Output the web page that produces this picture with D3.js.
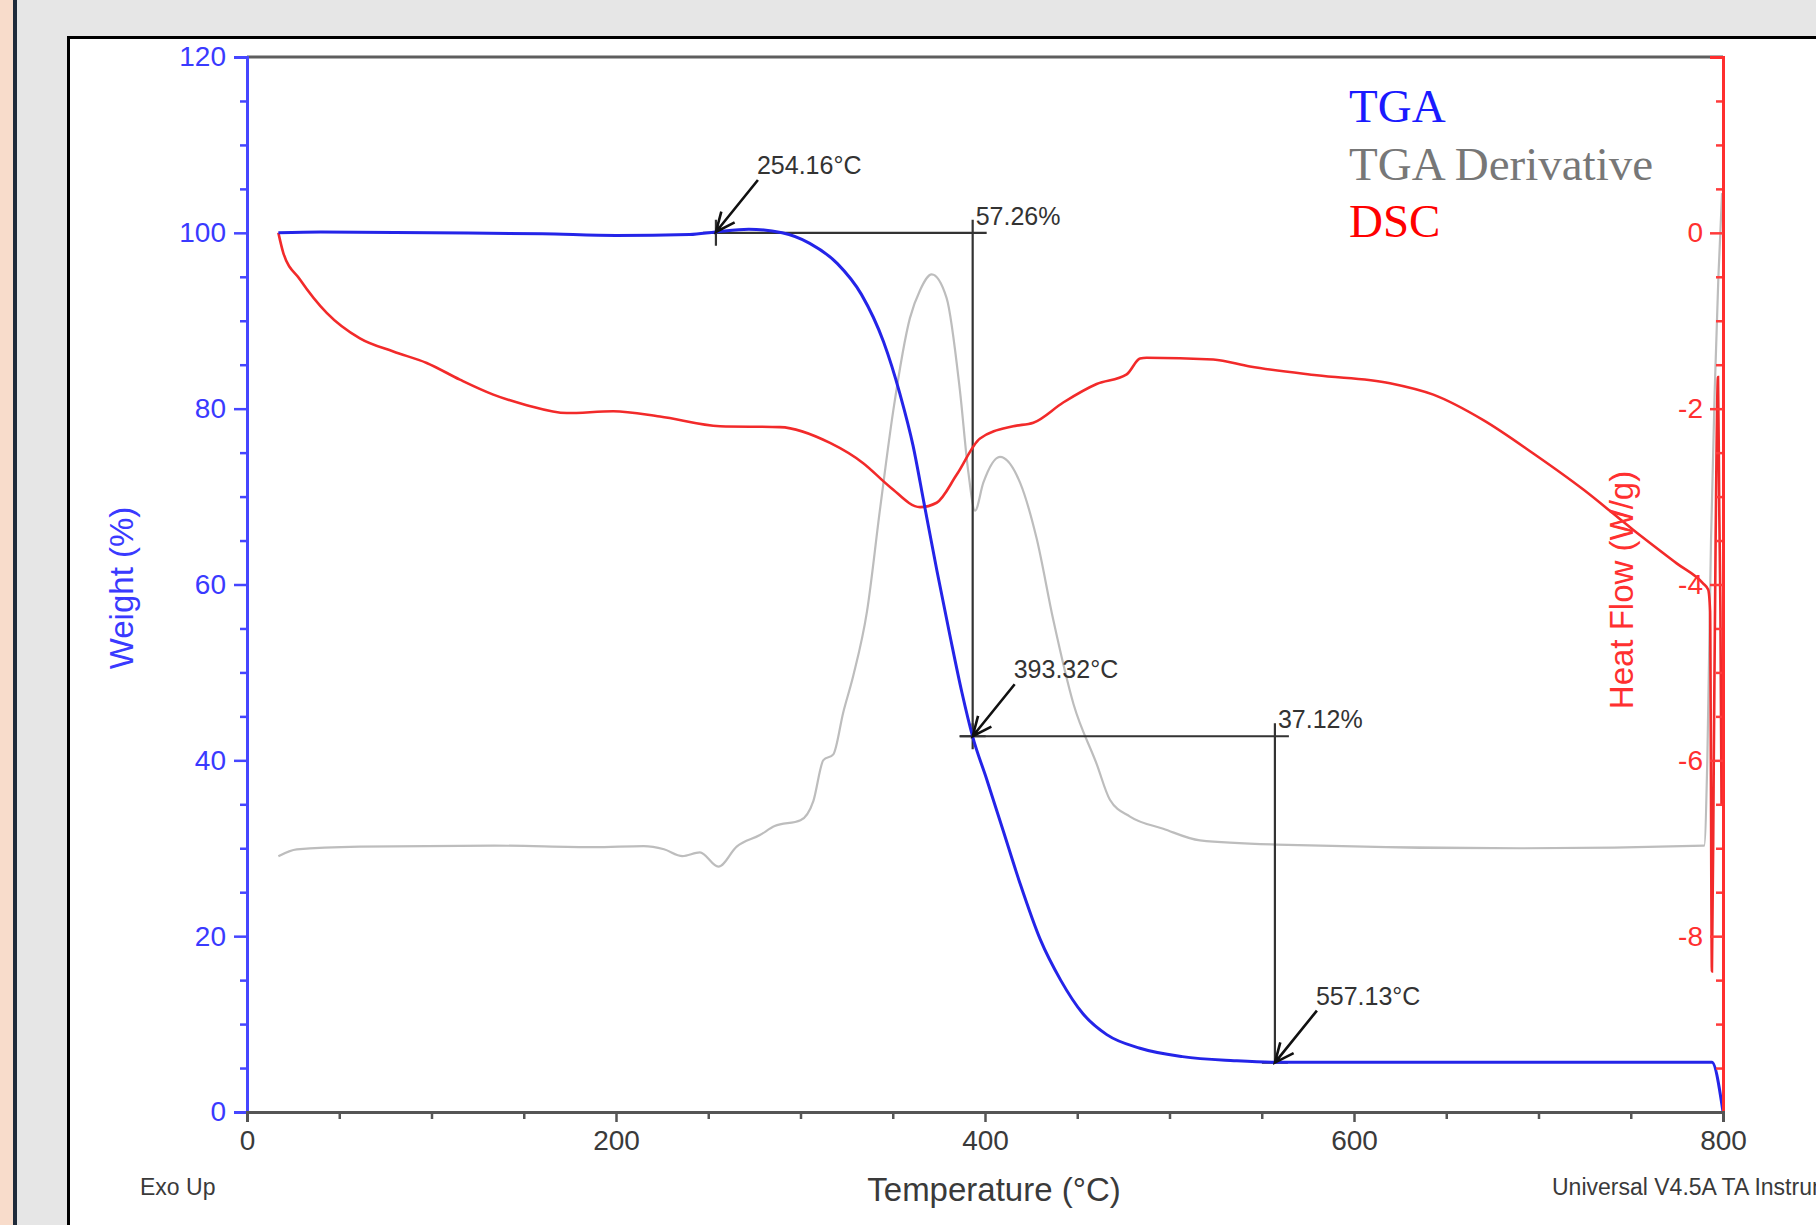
<!DOCTYPE html>
<html>
<head>
<meta charset="utf-8">
<script src="https://cdn.jsdelivr.net/npm/d3@7"></script>
<style>
  html, body { margin: 0; padding: 0; background: #e6e6e6; }
  svg { display: block; }
</style>
</head>
<body>
<div id="wrapper"></div>
<script>
// TGA weight (%) vs temperature (°C)
const tgaData = [
  [17, 100.0], [40, 100.1], [100, 100.0], [160, 99.9], [200, 99.7], [240, 99.8],
  [254, 100.1], [272, 100.4], [290, 100.0], [305, 98.8], [320, 96.5], [333, 93.0],
  [345, 87.6], [354, 81.6], [361, 75.8], [367, 69.2], [374, 61.5], [381, 54.2],
  [387.4, 47.8], [393.3, 42.7], [401, 37.8], [410, 31.9], [419, 26.0], [430, 19.6],
  [441, 15.0], [453, 11.2], [466, 8.8], [484, 7.25], [507, 6.3], [535, 5.84],
  [558, 5.65], [650, 5.65], [794, 5.65], [800, 0]
];
// DSC heat flow (W/g) vs temperature (°C)
const dscData = [
  [17, 0.0], [19.7, -0.23], [28.7, -0.53], [43.2, -0.91], [61.2, -1.20], [79.3, -1.35],
  [97.4, -1.48], [115.4, -1.67], [133.5, -1.84], [151.6, -1.96], [173.3, -2.05],
  [198.5, -2.03], [223.8, -2.09], [256.4, -2.20], [288.9, -2.21], [316, -2.39],
  [334, -2.62], [348.5, -2.89], [364.8, -3.12], [373.8, -3.07], [384.7, -2.75],
  [397.3, -2.34], [415.3, -2.20], [426.2, -2.16], [442.4, -1.93], [460.5, -1.72],
  [476.8, -1.61], [484, -1.43], [487.6, -1.42], [523.7, -1.44], [543.6, -1.52],
  [579.8, -1.62], [619.5, -1.71], [643, -1.84], [670.1, -2.13], [697.2, -2.51],
  [724.3, -2.92], [751.4, -3.38], [774.9, -3.76], [789.3, -3.99], [792, -4.06],
  [793, -4.3], [794, -8.4], [795, -6.0], [796, -3.5], [797.3, -1.64], [798, -3.2],
  [798.6, -4.3], [799.2, -6.5]
];
// TGA derivative (%/°C) vs temperature (°C)
const derivData = [
  [17, -0.015], [27, -0.002], [61, 0.003], [134, 0.005], [188, 0.002], [215, 0.004],
  [226, -0.002], [236, -0.015], [245.5, -0.008], [255.5, -0.035], [265.4, 0.003],
  [278, 0.025], [286, 0.042], [300, 0.053], [307, 0.09], [312.4, 0.167], [317.8, 0.178],
  [323.2, 0.258], [328.6, 0.327], [336, 0.448], [343, 0.64], [350.3, 0.83],
  [359.3, 1.005], [364.8, 1.058], [371.1, 1.088], [379.2, 1.043], [386.4, 0.868],
  [390.9, 0.715], [394.6, 0.64], [399.1, 0.693], [408.1, 0.742], [419, 0.693],
  [428, 0.587], [437, 0.433], [448, 0.273], [460.5, 0.16], [467.7, 0.092],
  [478.6, 0.06], [496.6, 0.037], [516.5, 0.015], [558, 0.007], [690, 0.0],
  [789.8, 0.005], [791.5, 0.167], [793.5, 0.583], [795.5, 0.867], [797.5, 1.083],
  [799.5, 1.242]
];

const weightTicks = [0, 20, 40, 60, 80, 100, 120];
const heatTicks = [0, -2, -4, -6, -8];
const tempTicks = [0, 200, 400, 600, 800];

// step annotations (weight loss between two temperatures)
const steps = [
  { from: 254.16, to: 393.32, top: 100, bottom: 42.74, label: "57.26%" },
  { from: 393.32, to: 557.13, top: 42.74, bottom: 5.62, label: "37.12%" }
];
const markers = [
  { temp: 254.16, weight: 100.1, label: "254.16°C" },
  { temp: 393.32, weight: 42.74, label: "393.32°C" },
  { temp: 557.13, weight: 5.62, label: "557.13°C" }
];
const legendItems = ["TGA", "TGA Derivative", "DSC"];

function drawChart() {
  const xAccessor = d => d[0];
  const yAccessor = d => d[1];

  // dimensions
  let dimensions = {
    width: 1816,
    height: 1225,
    margin: { top: 57, right: 93, bottom: 113, left: 247 }
  };
  dimensions.boundWidth = dimensions.width - dimensions.margin.left - dimensions.margin.right;
  dimensions.boundHeight = dimensions.height - dimensions.margin.top - dimensions.margin.bottom;

  const sans = "'Liberation Sans', Arial, sans-serif";
  const serif = "'Liberation Serif', 'Times New Roman', serif";

  // canvas
  const wrapper = d3.select('#wrapper')
    .append('svg')
    .attr('width', dimensions.width)
    .attr('height', dimensions.height);

  wrapper.append('rect').attr('width', dimensions.width).attr('height', dimensions.height).attr('fill', '#e6e6e6');
  wrapper.append('rect').attr('width', 13).attr('height', dimensions.height).attr('fill', '#f8dccb');
  wrapper.append('rect').attr('x', 13).attr('width', 4).attr('height', dimensions.height).attr('fill', '#1f2b3a');
  wrapper.append('rect')
    .attr('x', 68.5).attr('y', 37.5)
    .attr('width', 1800).attr('height', 1300)
    .attr('fill', '#fff')
    .attr('stroke', '#000')
    .attr('stroke-width', 3);

  const bounds = wrapper.append('g')
    .attr('transform', `translate(${dimensions.margin.left}, ${dimensions.margin.top})`);

  // scales
  const xScale = d3.scaleLinear()
    .domain([0, 800])
    .range([0, dimensions.boundWidth]);
  const yScale = d3.scaleLinear()
    .domain([0, 120])
    .range([dimensions.boundHeight, 0]);
  const heatScale = d3.scaleLinear()
    .domain([-10, 2])
    .range([dimensions.boundHeight, 0]);
  const derivScale = d3.scaleLinear()
    .domain([-0.5, 1.5])
    .range([dimensions.boundHeight, 0]);

  // top frame
  bounds.append('line')
    .attr('x1', 0).attr('x2', dimensions.boundWidth)
    .attr('y1', 0).attr('y2', 0)
    .attr('stroke', '#5e5e5e')
    .attr('stroke-width', 3);

  // derivative curve
  const derivLine = d3.line()
    .x(d => xScale(xAccessor(d)))
    .y(d => derivScale(yAccessor(d)))
    .curve(d3.curveMonotoneX);
  bounds.append('path')
    .datum(derivData)
    .attr('d', derivLine)
    .attr('fill', 'none')
    .attr('stroke', '#bdbdbd')
    .attr('stroke-width', 2.2);

  // step annotations
  const annColor = '#333';
  const ann = bounds.append('g')
    .attr('stroke', annColor)
    .attr('stroke-width', 2.2)
    .attr('fill', 'none');
  steps.forEach(s => {
    const x1 = xScale(s.from), x2 = xScale(s.to);
    const y1 = yScale(s.top), y2 = yScale(s.bottom);
    const p = d3.path();
    p.moveTo(x1 - 13, y1); p.lineTo(x2 + 14, y1);
    p.moveTo(x1, y1 - 13); p.lineTo(x1, y1 + 13);
    p.moveTo(x2, y1 - 13); p.lineTo(x2, y2);
    p.moveTo(x2 - 13, y2); p.lineTo(x2 + 13, y2);
    ann.append('path').attr('d', p.toString());
    bounds.append('text')
      .attr('x', x2 + 3)
      .attr('y', y1 - 8)
      .attr('fill', annColor)
      .style('font-family', sans)
      .style('font-size', '25px')
      .text(s.label);
  });

  // DSC curve
  const dscLine = d3.line()
    .x(d => xScale(xAccessor(d)))
    .y(d => heatScale(yAccessor(d)))
    .curve(d3.curveMonotoneX);
  bounds.append('path')
    .datum(dscData)
    .attr('d', dscLine)
    .attr('fill', 'none')
    .attr('stroke', '#f22a2a')
    .attr('stroke-width', 2.6);

  // TGA curve
  const tgaLine = d3.line()
    .x(d => xScale(xAccessor(d)))
    .y(d => yScale(yAccessor(d)))
    .curve(d3.curveMonotoneX);
  bounds.append('path')
    .datum(tgaData)
    .attr('d', tgaLine)
    .attr('fill', 'none')
    .attr('stroke', '#2424e8')
    .attr('stroke-width', 3);

  // arrows + temperature labels
  markers.forEach(d => {
    const tx = xScale(d.temp), ty = yScale(d.weight);
    const sx = tx + 42, sy = ty - 52;
    const angle = Math.atan2(sy - ty, sx - tx);
    const arm = 21, spread = 0.42;
    const p = d3.path();
    p.moveTo(sx, sy); p.lineTo(tx, ty);
    p.moveTo(tx + arm * Math.cos(angle - spread), ty + arm * Math.sin(angle - spread));
    p.lineTo(tx, ty);
    p.lineTo(tx + arm * Math.cos(angle + spread), ty + arm * Math.sin(angle + spread));
    bounds.append('path')
      .attr('d', p.toString())
      .attr('fill', 'none')
      .attr('stroke', '#111')
      .attr('stroke-width', 2.6);
    bounds.append('text')
      .attr('x', tx + 41)
      .attr('y', ty - 58)
      .attr('fill', annColor)
      .style('font-family', sans)
      .style('font-size', '25px')
      .text(d.label);
  });

  // left axis (weight)
  const leftMinor = bounds.append('g')
    .call(d3.axisLeft(yScale)
      .tickValues(d3.range(0, 121, 5).filter(v => v % 20 !== 0))
      .tickSize(7)
      .tickFormat(''));
  leftMinor.select('.domain').remove();
  leftMinor.selectAll('.tick line').attr('stroke', '#4646ff').attr('stroke-width', 2.5);

  const leftAxis = bounds.append('g')
    .call(d3.axisLeft(yScale)
      .tickValues(weightTicks)
      .tickSize(13)
      .tickPadding(8));
  leftAxis.select('.domain').attr('stroke', '#4646ff').attr('stroke-width', 3);
  leftAxis.selectAll('.tick line').attr('stroke', '#4646ff').attr('stroke-width', 2.5);
  leftAxis.selectAll('.tick text')
    .attr('fill', '#3a3aff')
    .style('font-family', sans)
    .style('font-size', '28px');

  // right axis (heat flow) - ticks and labels inside the plot
  const rightMinor = bounds.append('g')
    .attr('transform', `translate(${dimensions.boundWidth}, 0)`)
    .call(d3.axisLeft(heatScale)
      .tickValues(d3.range(-10, 2.01, 0.5).filter(v => v % 2 !== 0))
      .tickSize(7)
      .tickFormat(''));
  rightMinor.select('.domain').remove();
  rightMinor.selectAll('.tick line').attr('stroke', '#ff3b3b').attr('stroke-width', 2.5);

  const rightAxis = bounds.append('g')
    .attr('transform', `translate(${dimensions.boundWidth}, 0)`)
    .call(d3.axisLeft(heatScale)
      .tickValues(heatTicks)
      .tickSize(13)
      .tickPadding(7)
      .tickFormat(d => String(d)));
  rightAxis.select('.domain').attr('stroke', '#ff2e2e').attr('stroke-width', 3);
  rightAxis.selectAll('.tick line').attr('stroke', '#ff3b3b').attr('stroke-width', 2.5);
  rightAxis.selectAll('.tick text')
    .attr('fill', '#ff3030')
    .style('font-family', sans)
    .style('font-size', '28px');

  // bottom axis (temperature)
  const bottomMinor = bounds.append('g')
    .attr('transform', `translate(0, ${dimensions.boundHeight})`)
    .call(d3.axisBottom(xScale)
      .tickValues(d3.range(0, 801, 50).filter(v => v % 200 !== 0))
      .tickSize(7)
      .tickFormat(''));
  bottomMinor.select('.domain').remove();
  bottomMinor.selectAll('.tick line').attr('stroke', '#555').attr('stroke-width', 2.5);

  const bottomAxis = bounds.append('g')
    .attr('transform', `translate(0, ${dimensions.boundHeight})`)
    .call(d3.axisBottom(xScale)
      .tickValues(tempTicks)
      .tickSize(10)
      .tickPadding(8));
  bottomAxis.select('.domain').attr('stroke', '#555').attr('stroke-width', 3);
  bottomAxis.selectAll('.tick line').attr('stroke', '#555').attr('stroke-width', 2.5);
  bottomAxis.selectAll('.tick text')
    .attr('fill', '#3a3a3a')
    .style('font-family', sans)
    .style('font-size', '28px');

  // axis titles
  wrapper.append('text')
    .attr('transform', 'translate(133, 588) rotate(-90)')
    .attr('text-anchor', 'middle')
    .attr('fill', '#3a3aff')
    .style('font-family', sans)
    .style('font-size', '33px')
    .text('Weight (%)');
  wrapper.append('text')
    .attr('transform', 'translate(1633, 590) rotate(-90)')
    .attr('text-anchor', 'middle')
    .attr('fill', '#ff3030')
    .style('font-family', sans)
    .style('font-size', '33px')
    .text('Heat Flow (W/g)');
  wrapper.append('text')
    .attr('x', 994)
    .attr('y', 1201)
    .attr('text-anchor', 'middle')
    .attr('fill', '#3a3a3a')
    .style('font-family', sans)
    .style('font-size', '33px')
    .text('Temperature (°C)');

  wrapper.append('text')
    .attr('x', 140).attr('y', 1195)
    .attr('fill', '#3a3a3a')
    .style('font-family', sans)
    .style('font-size', '23px')
    .text('Exo Up');
  // this one runs past the right edge, as in the original screenshot
  wrapper.append('text')
    .attr('x', 1552).attr('y', 1195)
    .attr('fill', '#3a3a3a')
    .style('font-family', sans)
    .style('font-size', '23px')
    .text('Universal V4.5A TA Instruments');

  // legend
  const legendColors = ['#1a1aff', '#777777', '#ff0000'];
  wrapper.append('g')
    .selectAll('text')
    .data(legendItems)
    .enter()
    .append('text')
    .attr('x', 1349)
    .attr('y', (d, i) => 122 + i * 57.5)
    .attr('fill', (d, i) => legendColors[i])
    .style('font-family', serif)
    .style('font-size', '47px')
    .text(d => d);
}
drawChart();
</script>
</body>
</html>
